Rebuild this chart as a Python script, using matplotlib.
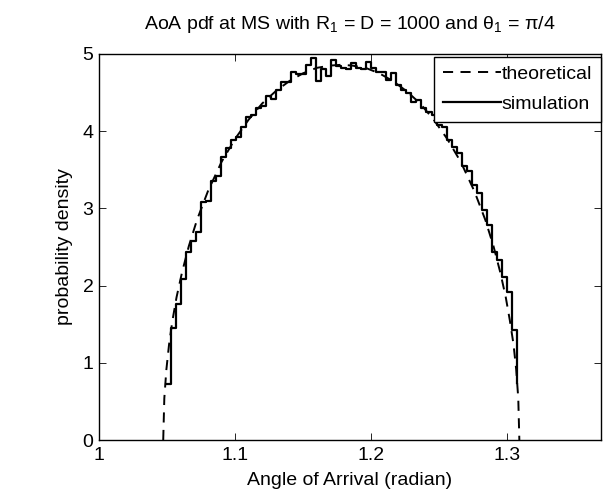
import matplotlib
matplotlib.use("Agg")
import matplotlib.pyplot as plt
import numpy as np

plt.rcParams['font.family'] = ['Liberation Sans', 'DejaVu Sans']
plt.rcParams['mathtext.fontset'] = 'custom'
plt.rcParams['mathtext.rm'] = 'Liberation Sans'
plt.rcParams['mathtext.it'] = 'Liberation Sans'
plt.rcParams['mathtext.default'] = 'rm'

# simulated histogram (bin centres span, bin heights)
bin_first = 1.0490
bin_last = 1.3071
sim_density = [
    0.73, 1.45, 1.76, 2.09, 2.43, 2.58, 2.70, 3.08, 3.10, 3.35,
    3.42, 3.67, 3.78, 3.89, 3.93, 4.06, 4.19, 4.21, 4.30, 4.33,
    4.45, 4.42, 4.53, 4.64, 4.64, 4.77, 4.74, 4.74, 4.86, 4.95,
    4.65, 4.80, 4.72, 4.92, 4.84, 4.82, 4.81, 4.88, 4.82, 4.80,
    4.90, 4.82, 4.77, 4.77, 4.66, 4.76, 4.60, 4.53, 4.50, 4.38,
    4.40, 4.30, 4.25, 4.21, 4.08, 4.05, 3.88, 3.80, 3.72, 3.55,
    3.48, 3.30, 3.20, 2.98, 2.78, 2.44, 2.33, 2.11, 1.92, 1.42,
    0.74,
]

# theoretical pdf, sampled off the dashed curve
theo_angle = [
    1.0472, 1.0480, 1.0495, 1.0515, 1.054, 1.057, 1.061, 1.066, 1.072, 1.080,
    1.090, 1.100, 1.110, 1.120, 1.130, 1.140, 1.150, 1.160, 1.170, 1.1781,
    1.186, 1.196, 1.206, 1.216, 1.226, 1.236, 1.246, 1.256, 1.266, 1.276,
    1.284, 1.290, 1.295, 1.299, 1.302, 1.3047, 1.3067, 1.3082, 1.3090,
]
theo_density = [
    0.0, 0.54, 0.91, 1.24, 1.55, 1.85, 2.17, 2.51, 2.85, 3.22,
    3.60, 3.90, 4.15, 4.36, 4.52, 4.65, 4.75, 4.82, 4.85, 4.86,
    4.85, 4.82, 4.75, 4.65, 4.52, 4.36, 4.15, 3.90, 3.60, 3.22,
    2.85, 2.51, 2.17, 1.85, 1.55, 1.24, 0.91, 0.54, 0.0,
]

x_ticks = [1, 1.1, 1.2, 1.3]
y_ticks = [0, 1, 2, 3, 4, 5]

FS = 14

fig = plt.figure(figsize=(6.06, 4.93), dpi=100)
ax = fig.add_axes([0.1634, 0.1075, 0.8283, 0.783])

bin_centres = np.linspace(bin_first, bin_last, len(sim_density))

ax.plot(theo_angle, theo_density, color='black', lw=1.4, linestyle=(0, (5.2, 3.8)),
        label='theoretical')
ax.step(bin_centres, sim_density, where='post', color='black', lw=1.6,
        label='simulation')

ax.set_xlim(1, 1.369)
ax.set_ylim(0, 5)
ax.set_xticks(x_ticks)
ax.set_xticklabels(['1', '1.1', '1.2', '1.3'])
ax.set_yticks(y_ticks)
ax.tick_params(axis='x', pad=5)
ax.tick_params(direction='in', top=True, right=True, length=5, width=0.6,
               labelsize=FS)
ax.tick_params(axis='y', pad=4)
for s in ax.spines.values():
    s.set_linewidth(1.0)

ax.set_xlabel('Angle of Arrival (radian)', fontsize=FS, labelpad=6)
ax.set_ylabel('probability density', fontsize=FS, labelpad=7)
ax.set_title('AoA pdf at MS with R$_1$ = D = 1000 and θ$_1$ = π/4',
             fontsize=FS, pad=18)

leg = ax.legend(loc='upper right', bbox_to_anchor=(1.0, 0.993), fontsize=FS,
                handlelength=3.0, handletextpad=0.05, labelspacing=0.65,
                borderpad=0.45, borderaxespad=0, frameon=True, fancybox=False)
leg.get_frame().set_edgecolor('black')
leg.get_frame().set_linewidth(1.0)
leg.get_frame().set_alpha(1)

fig.savefig('out.png', dpi=100)
